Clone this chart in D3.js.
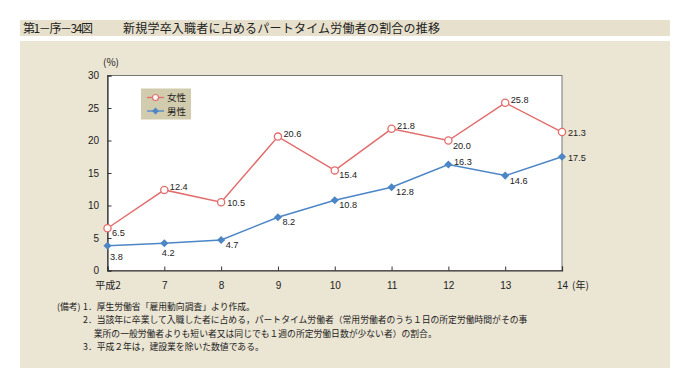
<!DOCTYPE html>
<html>
<head>
<meta charset="utf-8">
<script src="https://cdn.jsdelivr.net/npm/d3@7"></script>
<style>
  body { margin: 0; background: #fff; }
  svg { display: block; font-family: "Noto Sans CJK JP", "Noto Sans", sans-serif; }
</style>
</head>
<body>
<div id="graph"></div>
<script>
const years = ["平成2", "7", "8", "9", "10", "11", "12", "13", "14"];
const female = [6.5, 12.4, 10.5, 20.6, 15.4, 21.8, 20.0, 25.8, 21.3];
const male = [3.8, 4.2, 4.7, 8.2, 10.8, 12.8, 16.3, 14.6, 17.5];
const yTicks = [0, 5, 10, 15, 20, 25, 30];
// label placement per point: "ra" right-above, "rb" right-below, "r" right, "b" below
const femalePlace = ["rb", "ra", "r", "ra", "rb", "ra", "rb", "ra", "r"];
const malePlace = ["b", "b2", "rb", "rb", "rb", "rb", "ra", "rb", "r"];
const notes = [
  ["(備考)", "1．厚生労働省「雇用動向調査」より作成。"],
  ["", "2．当該年に卒業して入職した者に占める，パートタイム労働者（常用労働者のうち１日の所定労働時間がその事"],
  ["", "　 業所の一般労働者よりも短い者又は同じでも１週の所定労働日数が少ない者）の割合。"],
  ["", "3．平成２年は，建設業を除いた数値である。"]
];

const width = 695;
const height = 380;
const marginLeft = 107.5;
const marginRight = 133;
const marginTop = 75.5;
const plotBottom = 270.5;

const red = "#e26d6d";
const blue = "#4c86c6";
const numFont = "Liberation Sans, Arial, sans-serif";

const svg = d3.create("svg")
  .attr("width", width)
  .attr("height", height);

//title bar
svg.append("rect")
  .attr("x", 20).attr("y", 20)
  .attr("width", 650).attr("height", 16)
  .attr("fill", "#e6e0cc");

svg.append("text")
  .attr("x", 23).attr("y", 32.5)
  .attr("font-size", 12)
  .attr("fill", "#222")
  .attr("textLength", 70)
  .text("第1－序－34図");

svg.append("text")
  .attr("x", 123).attr("y", 32.5)
  .attr("font-size", 12)
  .attr("fill", "#222")
  .attr("textLength", 317)
  .text("新規学卒入職者に占めるパートタイム労働者の割合の推移");

//panel
svg.append("rect")
  .attr("x", 20).attr("y", 41)
  .attr("width", 650).attr("height", 327)
  .attr("fill", "#ebe5d3");

const xScale = d3.scalePoint()
  .domain(years)
  .range([marginLeft, width - marginRight]);

const yScale = d3.scaleLinear()
  .domain([0, 30])
  .range([plotBottom, marginTop]);

//plot area
svg.append("rect")
  .attr("x", marginLeft).attr("y", marginTop)
  .attr("width", width - marginRight - marginLeft)
  .attr("height", plotBottom - marginTop)
  .attr("fill", "#fff")
  .attr("stroke", "#777")
  .attr("stroke-width", 1);

const xAxis = d3.axisBottom(xScale).tickSize(-4).tickPadding(11);
const yAxis = d3.axisLeft(yScale).tickValues(yTicks).tickSize(-4).tickPadding(8.5);

const gx = svg.append("g")
  .attr("transform", `translate(0, ${plotBottom})`)
  .call(xAxis);

const gy = svg.append("g")
  .attr("transform", `translate(${marginLeft}, 0)`)
  .call(yAxis);

[gx, gy].forEach(g => {
  g.select(".domain").attr("stroke", "#333").attr("stroke-width", 1.2);
  g.selectAll(".tick line").attr("stroke", "#333");
  g.selectAll(".tick text")
    .attr("font-size", 10)
    .attr("fill", "#222")
    .attr("font-family", numFont);
});
gx.selectAll(".tick text").filter(d => d === "平成2")
  .attr("font-family", "Noto Sans CJK JP, sans-serif");

svg.append("text")
  .attr("x", 572).attr("y", 289)
  .attr("font-size", 10).attr("fill", "#222")
  .text("(年)");

svg.append("text")
  .attr("x", 103).attr("y", 66)
  .attr("font-size", 10).attr("fill", "#222")
  .text("(%)");

const line = d3.line()
  .x((d, i) => xScale(years[i]))
  .y(d => yScale(d));

//lines
svg.append("path")
  .datum(female)
  .attr("fill", "none")
  .attr("stroke", red)
  .attr("stroke-width", 1.5)
  .attr("d", line);

svg.append("path")
  .datum(male)
  .attr("fill", "none")
  .attr("stroke", blue)
  .attr("stroke-width", 1.5)
  .attr("d", line);

//markers
svg.selectAll(".female-pt")
  .data(female)
  .enter()
  .append("circle")
  .attr("class", "female-pt")
  .attr("cx", (d, i) => xScale(years[i]))
  .attr("cy", d => yScale(d))
  .attr("r", 3.6)
  .attr("fill", "#fff")
  .attr("stroke", red)
  .attr("stroke-width", 1.3);

const diamond = d3.symbol().type(d3.symbolDiamond2).size(42);

svg.selectAll(".male-pt")
  .data(male)
  .enter()
  .append("path")
  .attr("class", "male-pt")
  .attr("transform", (d, i) => `translate(${xScale(years[i])}, ${yScale(d)})`)
  .attr("d", diamond)
  .attr("fill", blue);

//value labels
const offsets = {
  ra: [5.5, 0],
  rb: [4.5, 8],
  r: [6, 4],
  b: [2.5, 14],
  b2: [-2.5, 13]
};

function addLabels(values, place, cls) {
  svg.selectAll("." + cls)
    .data(values)
    .enter()
    .append("text")
    .attr("class", cls)
    .attr("x", (d, i) => xScale(years[i]) + offsets[place[i]][0])
    .attr("y", (d, i) => yScale(d) + offsets[place[i]][1])
    .attr("font-size", 9.2)
    .attr("font-family", numFont)
    .attr("fill", "#222")
    .text(d => d.toFixed(1));
}
addLabels(female, femalePlace, "female-lbl");
addLabels(male, malePlace, "male-lbl");

//legend
const legend = svg.append("g").attr("transform", "translate(141, 88.5)");
legend.append("rect")
  .attr("width", 50).attr("height", 31)
  .attr("fill", "#d2ccae");

const legendItems = [
  { name: "女性", color: red, type: "circle" },
  { name: "男性", color: blue, type: "diamond" }
];
legendItems.forEach((item, i) => {
  const y = 9 + i * 13.5;
  legend.append("line")
    .attr("x1", 6).attr("x2", 23)
    .attr("y1", y).attr("y2", y)
    .attr("stroke", item.color).attr("stroke-width", 1.3);
  if (item.type === "circle") {
    legend.append("circle")
      .attr("cx", 14.5).attr("cy", y).attr("r", 3)
      .attr("fill", "#fff").attr("stroke", item.color).attr("stroke-width", 1.2);
  } else {
    legend.append("path")
      .attr("transform", `translate(14.5, ${y})`)
      .attr("d", d3.symbol().type(d3.symbolDiamond2).size(30))
      .attr("fill", item.color);
  }
  legend.append("text")
    .attr("x", 26).attr("y", y + 3.5)
    .attr("font-size", 9.5).attr("fill", "#222")
    .text(item.name);
});

//notes
const noteY = [309.5, 323, 336.5, 350];
notes.forEach((n, i) => {
  if (n[0]) {
    svg.append("text")
      .attr("x", 57).attr("y", noteY[i])
      .attr("font-size", 8.8).attr("fill", "#222")
      .text(n[0]);
  }
  svg.append("text")
    .attr("x", 83).attr("y", noteY[i])
    .attr("font-size", 8.8).attr("fill", "#222")
    .text(n[1]);
});

d3.select("#graph").append(() => svg.node());
</script>
</body>
</html>
